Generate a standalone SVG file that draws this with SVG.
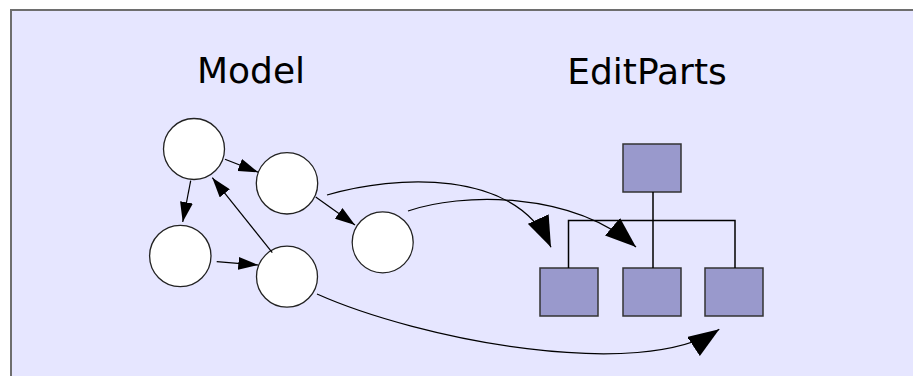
<svg xmlns="http://www.w3.org/2000/svg" width="913" height="376" viewBox="0 0 913 376">
  <style>
    .frame { fill: #E6E6FF; stroke: #6E6E6E; stroke-width: 2; }
    .title { font-family: "DejaVu Sans", Verdana, sans-serif; font-size: 36px; fill: #000; text-anchor: middle; }
    .model { fill: #FFFFFF; stroke: #222; stroke-width: 1.3; }
    .part { fill: #9999CC; stroke: #333; stroke-width: 1.5; }
    .tree { fill: none; stroke: #000; stroke-width: 1.5; }
    .edge { fill: none; stroke: #000; stroke-width: 1.2; }
    .small { marker-end: url(#headSmall); }
    .big { marker-end: url(#headBig); }
  </style>
  <defs>
    <marker id="headSmall" markerUnits="userSpaceOnUse" markerWidth="20" markerHeight="13" refX="20" refY="6.5" orient="auto">
      <path d="M0,0 L20,6.5 L0,13 Z" fill="#000"/>
    </marker>
    <marker id="headBig" markerUnits="userSpaceOnUse" markerWidth="31" markerHeight="23" refX="31" refY="11.5" orient="auto">
      <path d="M0,0 L31,11.5 L0,23 Z" fill="#000"/>
    </marker>
  </defs>

  <rect class="frame" x="11" y="10" width="920" height="380"/>

  <text class="title" x="251" y="83">Model</text>
  <text class="title" x="647" y="84">EditParts</text>

  <!-- model objects -->
  <g id="m1"><circle class="model" cx="194" cy="149" r="30.5"/></g>
  <g id="m2"><circle class="model" cx="287" cy="183.3" r="30.7"/></g>
  <g id="m3"><circle class="model" cx="180.3" cy="256" r="30.7"/></g>
  <g id="m4"><circle class="model" cx="287" cy="276.7" r="30.5"/></g>
  <g id="m5"><circle class="model" cx="382.7" cy="242.3" r="30.5"/></g>

  <!-- edit part tree -->
  <g id="p-root"><rect class="part" x="623" y="144" width="58" height="48"/></g>
  <g id="p-left"><rect class="part" x="540" y="268" width="58" height="48"/></g>
  <g id="p-mid"><rect class="part" x="623" y="268" width="58" height="48"/></g>
  <g id="p-right"><rect class="part" x="705" y="268" width="58" height="48"/></g>

  <g id="connectors">
    <!-- tree structure -->
    <path class="tree" d="M653,192 V268 M568.5,268 V220.5 H735 V268"/>

    <!-- model references -->
    <line class="edge small" x1="225" y1="159.3" x2="258.3" y2="172.3"/>
    <line class="edge small" x1="190.7" y1="180.7" x2="182.7" y2="222"/>
    <line class="edge small" x1="216.7" y1="261.7" x2="258.3" y2="265"/>
    <line class="edge small" x1="272.3" y1="252.7" x2="212.3" y2="177.7"/>
    <line class="edge small" x1="315.7" y1="197" x2="355" y2="225"/>

    <!-- model to edit part mapping -->
    <path class="edge big" d="M327,195 C395,175 515,168 551,247.3"/>
    <path class="edge big" d="M408,211 C460,193 570,190 636,247"/>
    <path class="edge big" d="M317,294 C420,340 640,382 719.3,329.3"/>
  </g>
</svg>
